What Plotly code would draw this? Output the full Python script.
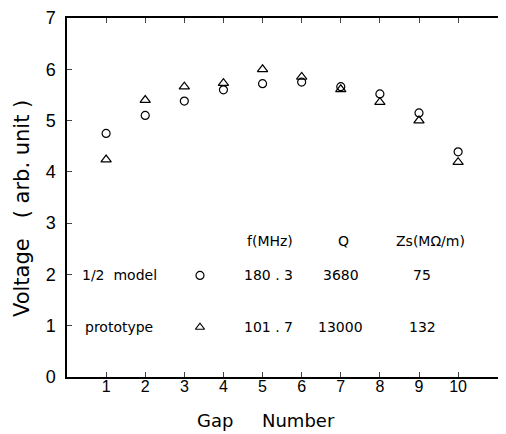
import plotly.graph_objects as go

gaps = [1, 2, 3, 4, 5, 6, 7, 8, 9, 10]
model_voltage = [4.75, 5.10, 5.38, 5.60, 5.72, 5.75, 5.66, 5.52, 5.15, 4.39]
proto_voltage = [4.24, 5.40, 5.66, 5.73, 6.00, 5.85, 5.61, 5.36, 5.00, 4.19]

x_ticks = [1, 2, 3, 4, 5, 6, 7, 8, 9, 10]
y_ticks = [0, 1, 2, 3, 4, 5, 6, 7]

table_names = ["1/2  model", "prototype"]
table_f = ["180 . 3", "101 . 7"]
table_q = ["3680", "13000"]
table_zs = ["75", "132"]
table_headers = ["f(MHz)", "Q", "Zs(MΩ/m)"]

TICKFONT = "Liberation Sans"
TXTFONT = "DejaVu Sans"
mk_line = dict(color="black", width=1.2)

fig = go.Figure()
fig.add_trace(go.Scatter(x=gaps, y=model_voltage, mode="markers",
                         marker=dict(symbol="circle-open", size=8, color="black", line=mk_line),
                         showlegend=False))
fig.add_trace(go.Scatter(x=gaps, y=proto_voltage, mode="markers",
                         marker=dict(symbol="triangle-up-open", size=9, color="black", line=mk_line),
                         showlegend=False))

# table rows (positions in data units)
row_y = [1.98, 0.97]
header_y = 2.66
col_name, col_sym, col_f, col_q, col_zs = 1.33, 3.4, 5.14, 7.0, 9.08
header_x = [5.19, 7.08, 9.3]
symbols = ["circle-open", "triangle-up-open"]
tfont = dict(family=TXTFONT, size=14, color="black")
for i in range(2):
    fig.add_trace(go.Scatter(x=[col_sym], y=[row_y[i]], mode="markers",
                             marker=dict(symbol=symbols[i], size=8, color="black", line=mk_line),
                             showlegend=False))
    for cx, txt in [(col_name, table_names[i]), (col_f, table_f[i]),
                    (col_q, table_q[i]), (col_zs, table_zs[i])]:
        fig.add_annotation(x=cx, y=row_y[i], text=txt, showarrow=False, font=tfont)
for cx, txt in zip(header_x, table_headers):
    fig.add_annotation(x=cx, y=header_y, text=txt, showarrow=False, font=tfont)

# axis titles (annotations placed in plot-area fractions)
fig.add_annotation(xref="paper", yref="paper", x=-0.102, y=0.468, text="Voltage   ( arb. unit )",
                   textangle=-90, showarrow=False, font=dict(family=TXTFONT, size=21, color="black"),
                   xanchor="center", yanchor="middle")
tt = dict(family=TXTFONT, size=18, color="black")
fig.add_annotation(xref="paper", yref="paper", x=0.336, y=-0.12, text="Gap",
                   showarrow=False, font=tt, xanchor="center", yanchor="middle")
fig.add_annotation(xref="paper", yref="paper", x=0.527, y=-0.12, text="Number",
                   showarrow=False, font=tt, xanchor="center", yanchor="middle")

# page body has an 8px default margin, so the figure is sized/margined to compensate
fig.update_layout(
    width=499, height=426,
    margin=dict(l=59, r=0, t=8, b=57),
    paper_bgcolor="white", plot_bgcolor="white",
    font=dict(family=TICKFONT, color="black"),
    xaxis=dict(range=[0, 11.25], tickvals=x_ticks, ticks="inside", ticklen=5,
               showline=True, linecolor="black", linewidth=1.5, mirror="ticks",
               showgrid=False, zeroline=False, tickfont=dict(size=16),
               ticklabelstandoff=-6),
    yaxis=dict(range=[0, 7], tickvals=y_ticks, ticks="inside", ticklen=5,
               showline=True, linecolor="black", linewidth=1.5, mirror=False,
               showgrid=False, zeroline=False, tickfont=dict(size=18),
               ticklabelstandoff=6, ticklabeloverflow="allow"),
)

fig.write_html("out.html")
